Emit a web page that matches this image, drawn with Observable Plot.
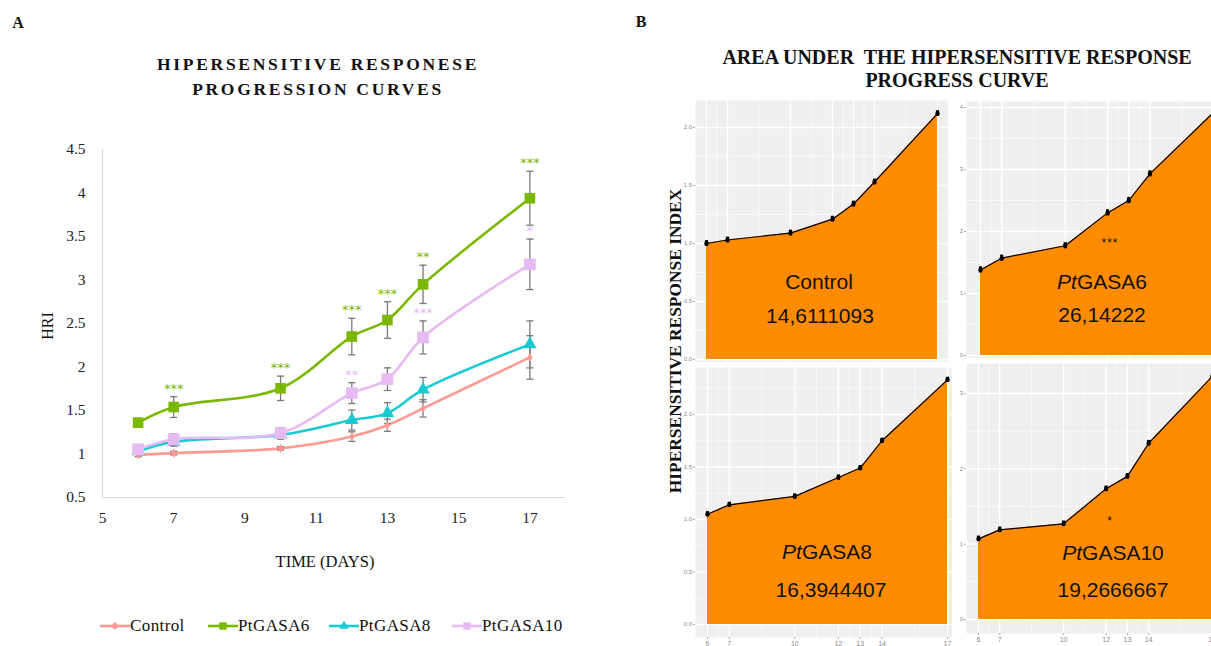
<!DOCTYPE html>
<html><head><meta charset="utf-8">
<script src="https://cdn.jsdelivr.net/npm/d3@7"></script>
<script src="https://cdn.jsdelivr.net/npm/@observablehq/plot@0.6"></script>
<style>
html,body{margin:0;padding:0;background:#fff;overflow:hidden;}
body{width:1211px;height:646px;position:relative;}
.abs{position:absolute;white-space:pre;line-height:1;}
.serif{font-family:"Liberation Serif","Times New Roman",serif;color:#111;}
.sans{font-family:"Liberation Sans",Arial,sans-serif;color:#111;}
svg{position:absolute;}
</style></head><body>
<script>
// ---------- DATA ----------
const days = [6, 7, 10, 12, 13, 14, 17];
const seriesNames = ["Control", "PtGASA6", "PtGASA8", "PtGASA10"];
const controlHRI = [0.99, 1.01, 1.065, 1.20, 1.33, 1.525, 2.11];
const controlErr = [0.02, 0.02, 0.02, 0.055, 0.07, 0.10, 0.25];
const gasa6HRI = [1.36, 1.54, 1.755, 2.35, 2.54, 2.95, 3.94];
const gasa6Err = [0.05, 0.12, 0.14, 0.21, 0.21, 0.22, 0.31];
const gasa8HRI = [1.03, 1.14, 1.22, 1.39, 1.47, 1.74, 2.26];
const gasa8Err = [0.03, 0.05, 0.05, 0.115, 0.12, 0.14, 0.27];
const gasa10HRI = [1.054, 1.17, 1.24, 1.70, 1.86, 2.34, 3.18];
const gasa10Err = [0.03, 0.06, 0.06, 0.12, 0.13, 0.19, 0.29];
const controlSig = ["", "", "", "", "", "", ""];
const gasa6Sig = ["", "***", "***", "***", "***", "**", "***"];
const gasa8Sig = ["", "", "", "", "", "", ""];
const gasa10Sig = ["", "", "", "**", "", "***", "*"];
const xTicks = [5, 7, 9, 11, 13, 15, 17];
const yTicks = [0.5, 1, 1.5, 2, 2.5, 3, 3.5, 4, 4.5];

// Panel B (AUDPC) values
const bControl = [1.00, 1.03, 1.09, 1.21, 1.34, 1.53, 2.12];
const bGasa6 = [1.38, 1.57, 1.77, 2.30, 2.50, 2.93, 3.92];
const bGasa8 = [1.05, 1.14, 1.22, 1.40, 1.49, 1.75, 2.33];
const bGasa10 = [1.07, 1.19, 1.27, 1.735, 1.90, 2.34, 3.23];
const audpcValues = ["14,6111093", "26,14222", "16,3944407", "19,2666667"];
const audpcSig = ["", "***", "", "*"];

// ---------- STYLE ----------
const colors = ["#ff9a93", "#7ab800", "#17cad3", "#e8baf3"];
const symbols = ["diamond", "square", "triangle", "square"];
const radii = [2.8, 6.0, 5.0, 6.6];
const serif = '"Liberation Serif","Times New Roman",serif';

function place(html, cx, cy, cls, style) {
  const d = document.createElement("div");
  d.className = "abs " + cls;
  d.innerHTML = html;
  d.style.left = cx + "px"; d.style.top = cy + "px";
  d.style.transform = "translate(-50%,-50%)" + (style && style.rot ? " rotate(-90deg)" : "");
  if (style) for (const k in style) if (k !== "rot") d.style[k] = style[k];
  document.body.appendChild(d);
  return d;
}

// ---------- PANEL A ----------
const allVals = [controlHRI, gasa6HRI, gasa8HRI, gasa10HRI];
const allErr = [controlErr, gasa6Err, gasa8Err, gasa10Err];
const allSig = [controlSig, gasa6Sig, gasa8Sig, gasa10Sig];
const rows = [];
seriesNames.forEach((s, i) => days.forEach((d, j) => rows.push({
  series: s, idx: i, day: d, hri: allVals[i][j], err: allErr[i][j], sig: allSig[i][j]
})));

const marksA = [
  Plot.ruleX([5], {stroke: "#d9d9d9", strokeWidth: 1.2}),
  Plot.ruleY([0.5], {stroke: "#d9d9d9", strokeWidth: 1.2}),
  Plot.axisY({ticks: yTicks, tickFormat: d => String(d), tickSize: 0, tickPadding: 17, label: null, fill: "#222"}),
  Plot.axisX({ticks: xTicks, tickFormat: d => String(d), tickSize: 0, tickPadding: 14, label: null, fill: "#222"}),
  Plot.line(rows, {x: "day", y: "hri", z: "series", stroke: "series", curve: "catmull-rom", strokeWidth: 2.6}),
  Plot.ruleX(rows, {x: "day", y1: d => d.hri - d.err, y2: d => d.hri + d.err, stroke: "#7a7a7a", strokeWidth: 1.3}),
  Plot.link(rows, {x1: d => d.day - 0.1, x2: d => d.day + 0.1, y1: d => d.hri + d.err, y2: d => d.hri + d.err, stroke: "#7a7a7a", strokeWidth: 1.3}),
  Plot.link(rows, {x1: d => d.day - 0.1, x2: d => d.day + 0.1, y1: d => d.hri - d.err, y2: d => d.hri - d.err, stroke: "#7a7a7a", strokeWidth: 1.3})
];
seriesNames.forEach((s, i) => {
  marksA.push(Plot.dot(rows.filter(d => d.idx === i), {x: "day", y: "hri", fill: colors[i], symbol: symbols[i], r: radii[i], stroke: null}));
});
marksA.push(Plot.text(rows.filter(d => d.sig), {
  x: "day", y: d => d.hri + d.err, text: "sig", fill: "series", dy: -4, lineAnchor: "bottom",
  fontSize: 13, fontFamily: '"DejaVu Sans",sans-serif', letterSpacing: "1px"
}));

const plotA = Plot.plot({
  width: 600, height: 420,
  marginLeft: 102, marginRight: 35, marginTop: 19, marginBottom: 53,
  x: {domain: [5, 18]},
  y: {domain: [0.5, 4.5]},
  color: {domain: seriesNames, range: colors},
  style: {fontFamily: serif, fontSize: "15.5px", background: "transparent", overflow: "visible"},
  marks: marksA
});
plotA.style.left = "0px"; plotA.style.top = "130px";
document.body.appendChild(plotA);

place("A", 18, 23, "serif", {fontSize: "16px", fontWeight: "bold"});
place("HIPERSENSITIVE RESPONESE", 318, 65, "serif", {fontSize: "17.5px", fontWeight: "bold", letterSpacing: "2.7px"});
place("PROGRESSION CURVES", 318, 90, "serif", {fontSize: "17.5px", fontWeight: "bold", letterSpacing: "2.7px"});
place("HRI", 48, 326, "serif", {fontSize: "16px", rot: true});
place("TIME (DAYS)", 325, 562, "serif", {fontSize: "16.5px"});

// Legend
const legendX = [100, 208, 329, 452];
seriesNames.forEach((s, i) => {
  const item = document.createElement("div");
  item.className = "abs serif";
  item.style.left = legendX[i] + "px"; item.style.top = "617px";
  item.style.fontSize = "17px"; item.style.letterSpacing = "0.4px";
  item.style.display = "flex"; item.style.alignItems = "center";
  const sw = d3.create("svg").attr("width", 30).attr("height", 14).style("position", "static");
  sw.append("line").attr("x1", 0).attr("x2", 30).attr("y1", 7).attr("y2", 7).attr("stroke", colors[i]).attr("stroke-width", 2.6);
  const sym = {diamond: d3.symbolDiamond2, square: d3.symbolSquare2, triangle: d3.symbolTriangle2}[symbols[i]];
  const size = {diamond: 40, square: 70, triangle: 60}[symbols[i]];
  sw.append("path").attr("d", d3.symbol(sym, size)()).attr("transform", "translate(15,7)").attr("fill", colors[i]);
  item.appendChild(sw.node());
  const t = document.createElement("span"); t.textContent = s;
  item.appendChild(t);
  document.body.appendChild(item);
});

// ---------- PANEL B ----------
place("B", 641, 22, "serif", {fontSize: "16px", fontWeight: "bold"});
place("AREA UNDER  THE HIPERSENSITIVE RESPONSE", 957, 57, "serif", {fontSize: "20px", fontWeight: "bold"});
place("PROGRESS CURVE", 957, 80, "serif", {fontSize: "20px", fontWeight: "bold"});
place("HIPERSENSITIVE RESPONSE INDEX", 676, 341, "serif", {fontSize: "17.4px", fontWeight: "bold", rot: true});

const panels = [
  {vals: bControl, L: 695, R: 948, T: 100, B: 362, x6: 706, x17: 937, y0: 359, yk: 127, k: 2, step: 0.5, fmt: ".1f", showX: false},
  {vals: bGasa6, L: 966, R: 1240, T: 101, B: 358, x6: 980, x17: 1213, y0: 355, yk: 107, k: 4, step: 1, fmt: "d", showX: false},
  {vals: bGasa8, L: 695, R: 952, T: 367, B: 637, x6: 707, x17: 947, y0: 624, yk: 414, k: 2, step: 0.5, fmt: ".1f", showX: true},
  {vals: bGasa10, L: 966, R: 1240, T: 363, B: 633, x6: 978, x17: 1212, y0: 619, yk: 393, k: 3, step: 1, fmt: "d", showX: true}
];
const xMinor = [6.5, 8.5, 11, 12.5, 13.5, 15.5];
const labelPos = [[819, 281, 820, 315], [1102, 281, 1102, 314], [827, 551, 831, 589], [1113, 552, 1113, 589]];
const sigPos = [null, [1110, 243], null, [1110, 521]];

panels.forEach((p, i) => {
  const ml = 30, mb = p.showX ? 16 : 0;
  const W = p.R - p.L + ml, H = p.B - p.T + mb;
  const data = days.map((d, j) => ({day: d, v: p.vals[j]}));
  const yMajor = d3.range(0, p.k + 1e-9 + p.step, p.step);
  const yMinor = yMajor.map(v => v + p.step / 2);
  const marks = [
    Plot.frame({fill: "#efefef", stroke: null}),
    Plot.ruleX(xMinor, {stroke: "white", strokeWidth: 0.6}),
    Plot.ruleY(yMinor, {stroke: "white", strokeWidth: 0.6}),
    Plot.ruleX(days, {stroke: "white", strokeWidth: 1.3}),
    Plot.ruleY(yMajor, {stroke: "white", strokeWidth: 1.3}),
    Plot.areaY(data, {x: "day", y: "v", fill: "#ff8c00"}),
    Plot.line(data, {x: "day", y: "v", stroke: "black", strokeWidth: 1.2}),
    Plot.ruleX(data, {x: "day", y1: d => d.v - 0.025 * p.k / 2, y2: d => d.v + 0.025 * p.k / 2, stroke: "black", strokeWidth: 3.2}),
    Plot.dot(data, {x: "day", y: "v", fill: "black", r: 2.2}),
    Plot.axisY({ticks: yMajor.filter(v => v <= p.k + 1e-9), tickFormat: d3.format(p.fmt), tickSize: 2, tickPadding: 1.5,
      fontSize: 6, fill: "#8a8a8a", stroke: "#aaa", label: null, fontFamily: '"Liberation Sans",sans-serif'})
  ];
  if (p.showX) marks.push(Plot.axisX({ticks: days, tickFormat: d => String(d), tickSize: 2, tickPadding: 2,
      fontSize: 7, fill: "#8a8a8a", stroke: "#aaa", label: null, fontFamily: '"Liberation Sans",sans-serif'}));
  const svg = Plot.plot({
    width: W, height: H, marginLeft: ml, marginRight: 0, marginTop: 0, marginBottom: mb,
    x: {domain: [6, 17], range: [p.x6 - p.L + ml, p.x17 - p.L + ml], axis: p.showX ? undefined : null},
    y: {domain: [0, p.k], range: [p.y0 - p.T, p.yk - p.T]},
    style: {background: "transparent"},
    marks
  });
  svg.style.left = (p.L - ml) + "px"; svg.style.top = p.T + "px";
  document.body.appendChild(svg);
  const name = seriesNames[i].startsWith("Pt") ? "<i>Pt</i>" + seriesNames[i].slice(2) : seriesNames[i];
  place(name, labelPos[i][0], labelPos[i][1], "sans", {fontSize: "21px"});
  place(audpcValues[i], labelPos[i][2], labelPos[i][3], "sans", {fontSize: "21px"});
  if (sigPos[i]) place(audpcSig[i], sigPos[i][0], sigPos[i][1], "sans", {fontSize: "12px", letterSpacing: "1px"});
});
</script>
</body></html>
